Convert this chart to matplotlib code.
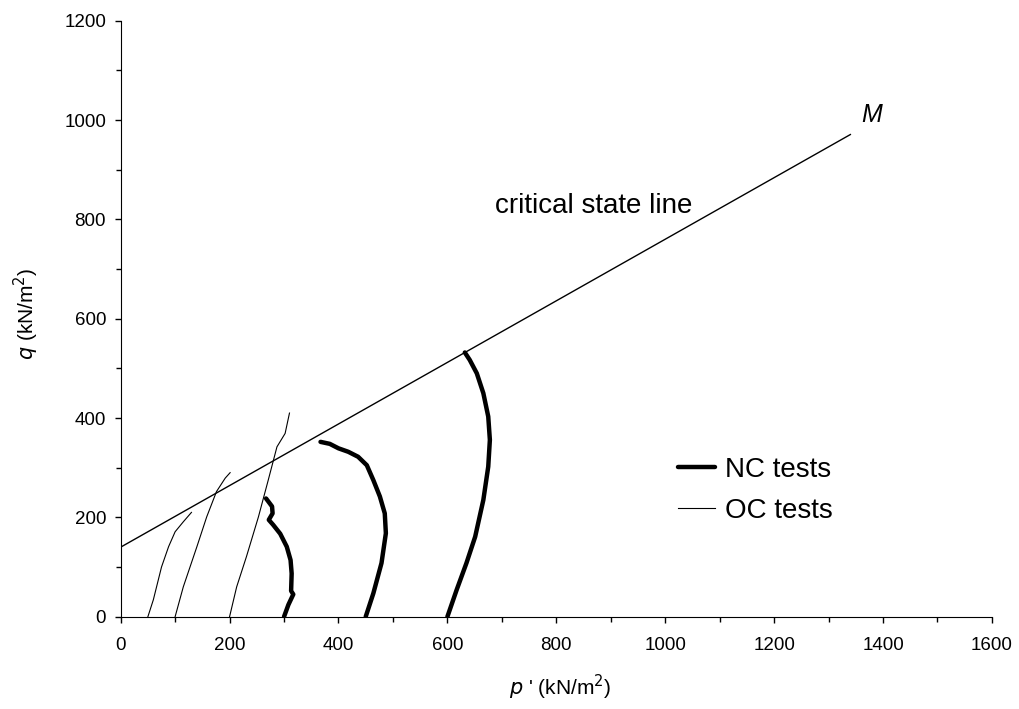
import numpy as np
import matplotlib.pyplot as plt
from matplotlib.ticker import MultipleLocator

plt.rcParams["font.family"] = ["Liberation Sans", "DejaVu Sans"]

# critical state line q = Q0 + M * p'
CSL_P = [0, 1340]
CSL_Q0 = 140
CSL_M = 0.62

# normally consolidated stress paths (p', q)
NC1_P = [300, 308, 317, 313, 314, 312, 305, 293, 280, 272, 279, 278, 267]
NC1_Q = [0, 24, 45, 52, 87, 114, 141, 167, 185, 195, 208, 222, 238]
NC2_P = [450, 464, 479, 487, 485, 476, 464, 452, 436, 418, 400, 384, 367]
NC2_Q = [0, 47, 108, 168, 208, 242, 275, 305, 322, 332, 339, 348, 352]
NC3_P = [600, 617, 635, 651, 666, 675, 678, 675, 666, 654, 641, 632]
NC3_Q = [0, 54, 108, 161, 235, 302, 356, 403, 450, 490, 517, 532]

# overconsolidated stress paths
OC1_P = [50, 60, 75, 88, 100, 115, 130]
OC1_Q = [0, 34, 100, 141, 171, 191, 210]
OC2_P = [100, 115, 140, 158, 176, 192, 201]
OC2_Q = [0, 60, 141, 201, 252, 279, 290]
OC3_P = [200, 213, 231, 253, 271, 287, 302, 310]
OC3_Q = [0, 60, 121, 201, 275, 342, 369, 410]

fig = plt.figure(figsize=(10.2, 7.09), dpi=100)
ax = fig.add_axes([0.1183, 0.1302, 0.8542, 0.8406])

p = np.array(CSL_P)
ax.plot(p, CSL_Q0 + CSL_M * p, color="black", lw=1.0)

nc = [(NC1_P, NC1_Q), (NC2_P, NC2_Q), (NC3_P, NC3_Q)]
oc = [(OC1_P, OC1_Q), (OC2_P, OC2_Q), (OC3_P, OC3_Q)]
for i, (x, y) in enumerate(nc):
    ax.plot(x, y, color="black", lw=3.2, solid_capstyle="round",
            label="NC tests" if i == 0 else None)
for i, (x, y) in enumerate(oc):
    ax.plot(x, y, color="black", lw=0.8,
            label="OC tests" if i == 0 else None)

ax.text(687, 813, "critical state line", fontsize=20, ha="left", va="baseline")
ax.text(1380, 1011, "M", fontsize=18, style="italic", ha="center", va="center")

ax.set_xlim(0, 1600)
ax.set_ylim(0, 1200)
ax.xaxis.set_major_locator(MultipleLocator(200))
ax.xaxis.set_minor_locator(MultipleLocator(100))
ax.yaxis.set_major_locator(MultipleLocator(200))
ax.yaxis.set_minor_locator(MultipleLocator(100))
ax.tick_params(which="both", direction="out", length=4.5, width=1, labelsize=13.5)
ax.tick_params(which="minor", length=3.5)
ax.tick_params(axis="x", pad=10)
ax.tick_params(axis="y", pad=6)
for s in ["top", "right"]:
    ax.spines[s].set_visible(False)

ax.set_xlabel(r"$p$ ' (kN/m$^2$)", fontsize=15)
ax.set_ylabel(r"$q$ (kN/m$^2$)", fontsize=15)
ax.xaxis.set_label_coords(0.504, -0.0945)
ax.yaxis.set_label_coords(-0.092, 0.509)

ax.legend(loc="center left", bbox_to_anchor=(0.64, 0.212), frameon=False,
          fontsize=20, handlelength=1.33, handletextpad=0.36,
          borderpad=0, borderaxespad=0, labelspacing=0.55)

fig.savefig("out.png", dpi=100)
